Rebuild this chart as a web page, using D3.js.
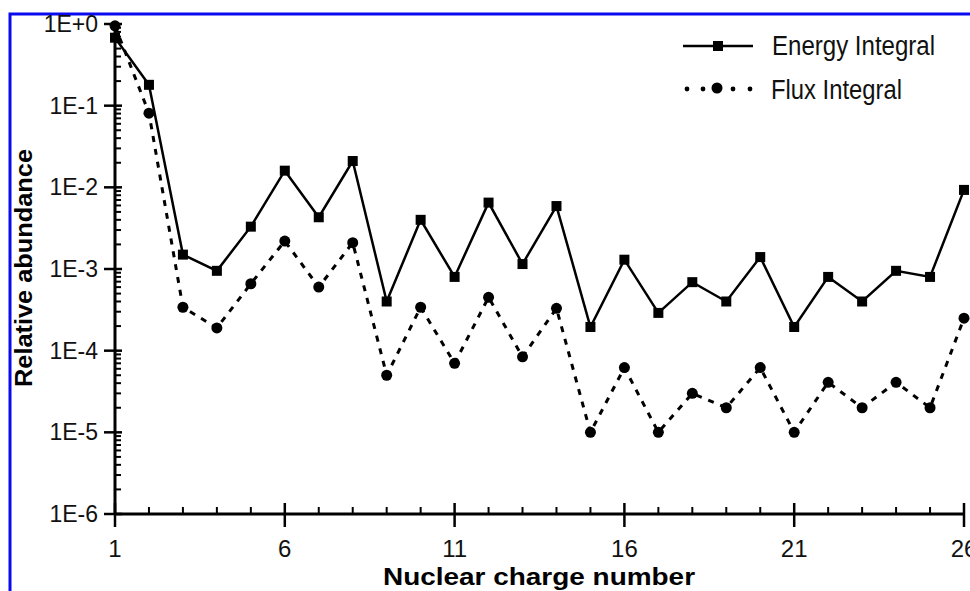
<!DOCTYPE html>
<html>
<head>
<meta charset="utf-8">
<script src="https://cdn.jsdelivr.net/npm/d3@7"></script>
<style>
    body { margin: 0; background: #fff; }
    svg { display: block; font-family: Arial, "Liberation Sans", sans-serif; }
</style>
</head>
<body>
<svg id="main-svg" width="970" height="591"></svg>
<script>
// nuclear charge numbers 1..26 and the two series
let CHARGES = [1, 2, 3, 4, 5, 6, 7, 8, 9, 10, 11, 12, 13, 14, 15, 16, 17, 18, 19, 20, 21, 22, 23, 24, 25, 26];
let ENERGY_INTEGRAL = [0.68, 0.18, 1.5e-3, 9.5e-4, 3.3e-3, 1.6e-2, 4.3e-3, 2.1e-2, 4.0e-4, 4.0e-3,
    8.0e-4, 6.5e-3, 1.15e-3, 5.9e-3, 1.95e-4, 1.3e-3, 2.9e-4, 6.9e-4, 4.0e-4, 1.4e-3,
    1.95e-4, 8.0e-4, 4.0e-4, 9.5e-4, 8.0e-4, 9.3e-3];
let FLUX_INTEGRAL = [0.95, 8.1e-2, 3.4e-4, 1.9e-4, 6.6e-4, 2.2e-3, 6.0e-4, 2.1e-3, 5.0e-5, 3.4e-4,
    7.0e-5, 4.5e-4, 8.4e-5, 3.3e-4, 1.0e-5, 6.2e-5, 1.0e-5, 3.0e-5, 2.0e-5, 6.2e-5,
    1.0e-5, 4.1e-5, 2.0e-5, 4.1e-5, 2.0e-5, 2.5e-4];
let X_TICKS = [1, 6, 11, 16, 21, 26];
let Y_TICKS = [1, 1e-1, 1e-2, 1e-3, 1e-4, 1e-5, 1e-6];
let Y_TICK_LABELS = ['1E+0', '1E-1', '1E-2', '1E-3', '1E-4', '1E-5', '1E-6'];
let LEGEND_LABELS = ['Energy Integral', 'Flux Integral'];

let svg = d3.select('#main-svg');

// blue frame round the figure (only top and left edges are visible)
svg.append('rect')
    .attr('x', 10).attr('y', 14)
    .attr('width', 1000).attr('height', 700)
    .attr('fill', 'none')
    .attr('stroke', '#0a0af0')
    .attr('stroke-width', 3);

let x = d3.scaleLinear().domain([1, 26]).range([115, 964]);
let y = d3.scaleLog().domain([1e-6, 1]).range([514, 24]);

// y axis: major ticks cross the line, log minor ticks on the inside
let yAxis = svg.append('g');
yAxis.append('line')
    .attr('x1', x(1)).attr('x2', x(1))
    .attr('y1', y(1)).attr('y2', y(1e-6))
    .attr('stroke', '#000').attr('stroke-width', 3);
let minorY = [];
for (let e = -6; e < 0; e++) {
    for (let m = 2; m <= 9; m++) minorY.push(m * Math.pow(10, e));
}
yAxis.selectAll('.minor').data(minorY).enter().append('line')
    .attr('x1', x(1)).attr('x2', x(1) + 6)
    .attr('y1', d => y(d)).attr('y2', d => y(d))
    .attr('stroke', '#000').attr('stroke-width', 2);
yAxis.selectAll('.major').data(Y_TICKS).enter().append('line')
    .attr('x1', x(1) - 11).attr('x2', x(1) + 7)
    .attr('y1', d => y(d)).attr('y2', d => y(d))
    .attr('stroke', '#000').attr('stroke-width', 2.5);
yAxis.selectAll('text').data(Y_TICKS).enter().append('text')
    .attr('x', x(1) - 17)
    .attr('y', d => y(d) + 8)
    .attr('text-anchor', 'end')
    .attr('font-size', 23)
    .attr('fill', '#111')
    .text((d, i) => Y_TICK_LABELS[i]);

// x axis: a minor tick at every integer, major tick every 5
let xAxis = svg.append('g');
xAxis.append('line')
    .attr('x1', x(1)).attr('x2', x(26))
    .attr('y1', y(1e-6)).attr('y2', y(1e-6))
    .attr('stroke', '#000').attr('stroke-width', 3);
xAxis.selectAll('.minor').data(CHARGES.filter(c => !X_TICKS.includes(c))).enter().append('line')
    .attr('x1', d => x(d)).attr('x2', d => x(d))
    .attr('y1', y(1e-6)).attr('y2', y(1e-6) - 7)
    .attr('stroke', '#000').attr('stroke-width', 2);
xAxis.selectAll('.major').data(X_TICKS).enter().append('line')
    .attr('x1', d => x(d)).attr('x2', d => x(d))
    .attr('y1', y(1e-6) - 11).attr('y2', y(1e-6) + 13)
    .attr('stroke', '#000').attr('stroke-width', 2.5);
xAxis.selectAll('text').data(X_TICKS).enter().append('text')
    .attr('x', d => x(d))
    .attr('y', 557)
    .attr('text-anchor', 'middle')
    .attr('font-size', 24)
    .attr('fill', '#111')
    .text(d => d);

// axis titles
svg.append('text')
    .attr('x', 539).attr('y', 585)
    .attr('text-anchor', 'middle')
    .attr('font-size', 24).attr('font-weight', 'bold')
    .attr('textLength', 312).attr('lengthAdjust', 'spacingAndGlyphs')
    .text('Nuclear charge number');
svg.append('text')
    .attr('transform', 'translate(32,268) rotate(-90)')
    .attr('text-anchor', 'middle')
    .attr('font-size', 24).attr('font-weight', 'bold')
    .attr('textLength', 238).attr('lengthAdjust', 'spacingAndGlyphs')
    .text('Relative abundance');

let energy = CHARGES.map((c, i) => ({ c: c, v: ENERGY_INTEGRAL[i] }));
let flux = CHARGES.map((c, i) => ({ c: c, v: FLUX_INTEGRAL[i] }));
let line = d3.line().x(d => x(d.c)).y(d => y(d.v));

// flux integral: short dashes with round markers
svg.append('path')
    .datum(flux)
    .attr('d', line)
    .attr('fill', 'none')
    .attr('stroke', '#000')
    .attr('stroke-width', 3)
    .attr('stroke-dasharray', '6,7');
svg.selectAll('.flux').data(flux).enter().append('circle')
    .attr('cx', d => x(d.c)).attr('cy', d => y(d.v))
    .attr('r', 5.5)
    .attr('fill', '#000');

// energy integral: solid line with square markers
svg.append('path')
    .datum(energy)
    .attr('d', line)
    .attr('fill', 'none')
    .attr('stroke', '#000')
    .attr('stroke-width', 2.5);
svg.selectAll('.energy').data(energy).enter().append('rect')
    .attr('x', d => x(d.c) - 5).attr('y', d => y(d.v) - 5)
    .attr('width', 10).attr('height', 10)
    .attr('fill', '#000');

// legend
let legend = svg.append('g');
legend.append('line')
    .attr('x1', 683).attr('x2', 753).attr('y1', 46).attr('y2', 46)
    .attr('stroke', '#000').attr('stroke-width', 2.5);
legend.append('rect')
    .attr('x', 713).attr('y', 41).attr('width', 10).attr('height', 10)
    .attr('fill', '#000');
legend.selectAll('.dot').data([687, 703, 733, 750]).enter().append('circle')
    .attr('cx', d => d).attr('cy', 89).attr('r', 2.4)
    .attr('fill', '#000');
legend.append('circle')
    .attr('cx', 717).attr('cy', 88).attr('r', 5.5)
    .attr('fill', '#000');
legend.selectAll('text').data(LEGEND_LABELS).enter().append('text')
    .attr('x', (d, i) => i === 0 ? 772 : 771)
    .attr('y', (d, i) => i === 0 ? 55 : 99)
    .attr('font-size', 27)
    .attr('fill', '#111')
    .attr('textLength', (d, i) => i === 0 ? 163 : 131)
    .attr('lengthAdjust', 'spacingAndGlyphs')
    .text(d => d);
</script>
</body>
</html>
